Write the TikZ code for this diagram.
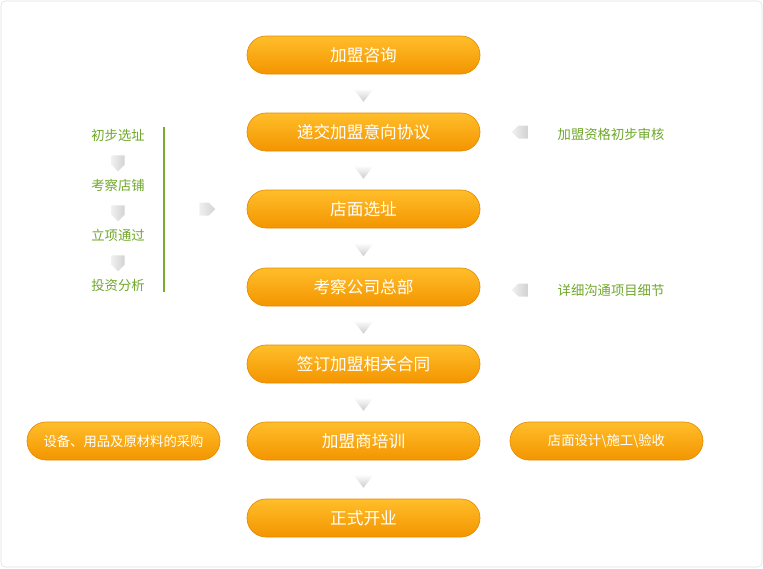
\documentclass[tikz,border=0pt]{standalone}
\usepackage{fontspec}
\setmainfont{Noto Sans CJK SC}
\usetikzlibrary{shapes.arrows,shapes.geometric,calc}
\definecolor{otop}{HTML}{FFBE2A}
\definecolor{obot}{HTML}{F39500}
\definecolor{oedge}{HTML}{E58A00}
\definecolor{gline}{HTML}{7AAE2A}
\definecolor{gtext}{HTML}{6FA82A}
\tikzset{
 pill/.style={rounded corners=19*0.75pt, top color=otop, bottom color=obot, draw=oedge, line width=0.5pt,
   minimum height=38*0.75pt, text=white, font=\fontsize{12.5}{14}\selectfont},
 mainpill/.style={pill, minimum width=233*0.75pt},
 tri/.style={isosceles triangle, isosceles triangle apex angle=75, shape border rotate=-90, inner sep=0pt,
   minimum height=10pt, minimum width=12pt, top color=white, bottom color=gray!40, draw=none},
 garrow/.style={single arrow, inner sep=0pt, minimum height=16*0.75pt, minimum width=13*0.75pt,
   single arrow tip angle=90, single arrow head extend=0pt, single arrow head indent=0pt,
   left color=gray!12, right color=gray!35, draw=none},
 gt/.style={text=gtext, font=\fontsize{10}{12}\selectfont},
}
\begin{document}
\begin{tikzpicture}[x=0.75pt,y=-0.75pt]
\useasboundingbox (0,0) rectangle (763,568);
\draw[gray!25, rounded corners=3pt] (1,1) rectangle (762,567);
\node[mainpill] (p1) at (363.5,55) {加盟咨询};
\node[mainpill] (p2) at (363.5,132) {递交加盟意向协议};
\node[mainpill] (p3) at (363.5,209) {店面选址};
\node[mainpill] (p4) at (363.5,287) {考察公司总部};
\node[mainpill] (p5) at (363.5,364) {签订加盟相关合同};
\node[mainpill] (p6) at (363.5,441) {加盟商培训};
\node[mainpill] (p7) at (363.5,518) {正式开业};
\node[pill, minimum width=193*0.75pt, font=\fontsize{10}{12}\selectfont] (l6) at (123.5,441) {设备、用品及原材料的采购};
\node[pill, minimum width=193*0.75pt, font=\fontsize{10}{12}\selectfont] (r6) at (606.5,441) {店面设计\textbackslash 施工\textbackslash 验收};
\foreach \a/\b in {p1/p2,p2/p3,p3/p4,p4/p5,p5/p6,p6/p7}
  \node[tri] at ($(\a)!0.5!(\b)$) {};
\node[gt, anchor=west] (r2) at (553,134) {加盟资格初步审核};
\node[gt, anchor=west] (r4) at (553,290) {详细沟通项目细节};
\node[garrow, rotate=180] (a2) at (523,132) {};
\node[garrow, rotate=180] (a4) at (523,290) {};
\node[gt] (s1) at (118,135) {初步选址};
\node[gt] (s2) at (118,185) {考察店铺};
\node[gt] (s3) at (118,235) {立项通过};
\node[gt] (s4) at (118,285) {投资分析};
\foreach \a/\b in {s1/s2,s2/s3,s3/s4}
  \node[garrow, rotate=-90] at ($(\a)!0.5!(\b)$) {};
\draw[gline, line width=2.2pt] (164,127) -- (164,292);
\node[garrow] (a3) at (204,209) {};
\end{tikzpicture}
\end{document}
